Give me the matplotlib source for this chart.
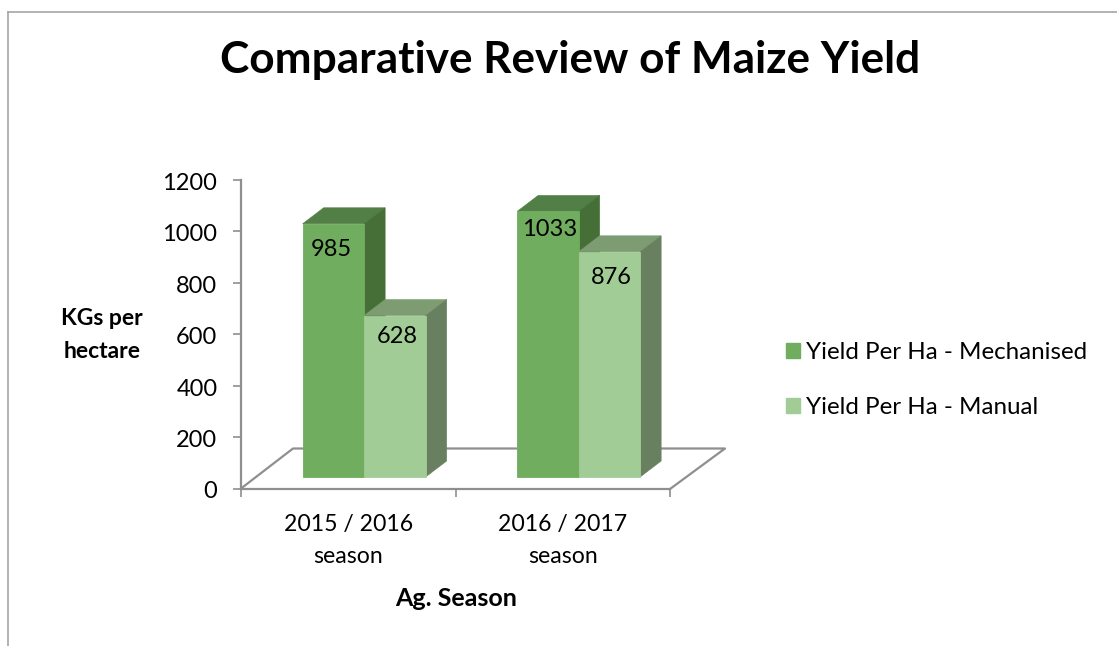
import matplotlib
matplotlib.use("Agg")
import matplotlib.pyplot as plt
from matplotlib.lines import Line2D
from matplotlib.patches import Patch
from matplotlib.transforms import ScaledTranslation

plt.rcParams['font.family'] = ['Lato', 'DejaVu Sans']

# Data
seasons = ["2015 / 2016\nseason", "2016 / 2017\nseason"]
mechanised = [985, 1033]
manual = [628, 876]
series_names = ["Yield Per Ha - Mechanised", "Yield Per Ha - Manual"]
y_ticks = [0, 200, 400, 600, 800, 1000, 1200]

W, H = 1117, 646
GREY = '#8f8f8f'

fig = plt.figure(figsize=(W / 100, H / 100), dpi=100, facecolor='white')
ax = fig.add_axes([241 / W, 1 - 488.5 / H, 429 / W, 308.5 / H])
ax.set_xlim(-0.5, 1.5)
ax.set_ylim(0, 1200)
ax.patch.set_visible(False)

# pixels to data units
px = 2 / 429
py = 1200 / 308.5

# chart frame cut off by the image edge
fig.add_artist(Line2D([8 / W, 8 / W], [0, 1 - 12 / H], color='#a6a6a6', lw=1.2))
fig.add_artist(Line2D([8 / W, 1], [1 - 12 / H, 1 - 12 / H], color='#a6a6a6', lw=1.2))

# floor of the 3d box
floor_x = [-0.5, -0.5 + 52 * px, 1.5 + 55 * px, 1.5]
floor_y = [0, 40 * py, 40 * py, -0.5 * py]
ax.plot(floor_x, floor_y, color=GREY, lw=1.6, clip_on=False, zorder=1)

# bars sit a bit inside the floor and have a fixed depth
lift = 11.5 * py
shift = 15.9 * px
bar_w = 61.5 * px
dx = 21 * px
dy = 16 * py


def draw_series(values, offset, front, top, side, z):
    for i, v in enumerate(values):
        left = i + shift + offset
        right = left + bar_w
        ax.bar(left, v, bar_w, bottom=lift, align='edge', color=front,
               edgecolor=front, lw=0.6, clip_on=False, zorder=z + 0.5)
        ax.fill([left, left + dx, right + dx, right],
                [lift + v, lift + v + dy, lift + v + dy, lift + v],
                color=top, lw=0.4, clip_on=False, zorder=z)
        ax.fill([right, right + dx, right + dx, right],
                [lift, lift + dy, lift + v + dy, lift + v],
                color=side, lw=0.4, clip_on=False, zorder=z)


draw_series(mechanised, -bar_w, '#70ad5f', '#527f45', '#466f38', 2)
# manual goes over the side of the mechanised bar
draw_series(manual, 0, '#a2cc96', '#7e9c72', '#68805f', 3)

# value labels, nudged by hand like in the original
mech_drop = [26, 18]
man_drop = [21, 26]
mech_nudge = [-2, 2]
man_nudge = [2, 2]
for i, v in enumerate(mechanised):
    ax.annotate(str(v), (i + shift - bar_w / 2, lift + v),
                xytext=(i + shift - bar_w / 2 + mech_nudge[i] * px, -mech_drop[i]),
                textcoords=('data', 'offset pixels'), ha='center', va='center',
                fontsize=17, color='black', zorder=6, annotation_clip=False)
for i, v in enumerate(manual):
    ax.annotate(str(v), (i + shift + bar_w / 2, lift + v),
                xytext=(i + shift + bar_w / 2 + man_nudge[i] * px, -man_drop[i]),
                textcoords=('data', 'offset pixels'), ha='center', va='center',
                fontsize=17, color='black', zorder=6, annotation_clip=False)

# axes
for s in ['top', 'right']:
    ax.spines[s].set_visible(False)
for s in ['left', 'bottom']:
    ax.spines[s].set_color(GREY)
    ax.spines[s].set_linewidth(1.6)
ax.set_yticks(y_ticks)
ax.set_xticks([-0.5, 0.5, 1.5])
ax.set_xticklabels([])
ax.set_xticks([0, 1], labels=seasons, minor=True)
ax.tick_params(axis='y', length=6, width=1.2, color=GREY, pad=11, labelsize=17)
ax.tick_params(axis='x', which='major', length=5.5, width=1.2, color=GREY)
ax.tick_params(axis='x', which='minor', length=0, pad=18, labelsize=16.6)
for t in ax.get_xticklabels(minor=True):
    t.set_linespacing(1.7)
down = ScaledTranslation(0, -1.5 / 100, fig.dpi_scale_trans)
for t in ax.get_yticklabels():
    t.set_verticalalignment('center_baseline')
    t.set_transform(t.get_transform() + down)

fig.text(570 / W, 1 - 60 / H, "Comparative Review of Maize Yield", ha='center', va='center',
         fontsize=31.8, fontweight='bold')
fig.text(102 / W, 1 - 335 / H, "KGs per\nhectare", ha='center', va='center',
         fontsize=16.5, fontweight='bold', linespacing=1.75)
fig.text(456 / W, 1 - 599 / H, "Ag. Season", ha='center', va='center',
         fontsize=18, fontweight='bold')

handles = [Patch(color='#70ad5f'), Patch(color='#a2cc96')]
fig.legend(handles, series_names, loc='center left', bbox_to_anchor=(764 / W, 1 - 380 / H),
           frameon=False, fontsize=17.4, handlelength=0.57, handleheight=0.57,
           handletextpad=0.27, labelspacing=1.4)

fig.savefig("out.png", dpi=100)
